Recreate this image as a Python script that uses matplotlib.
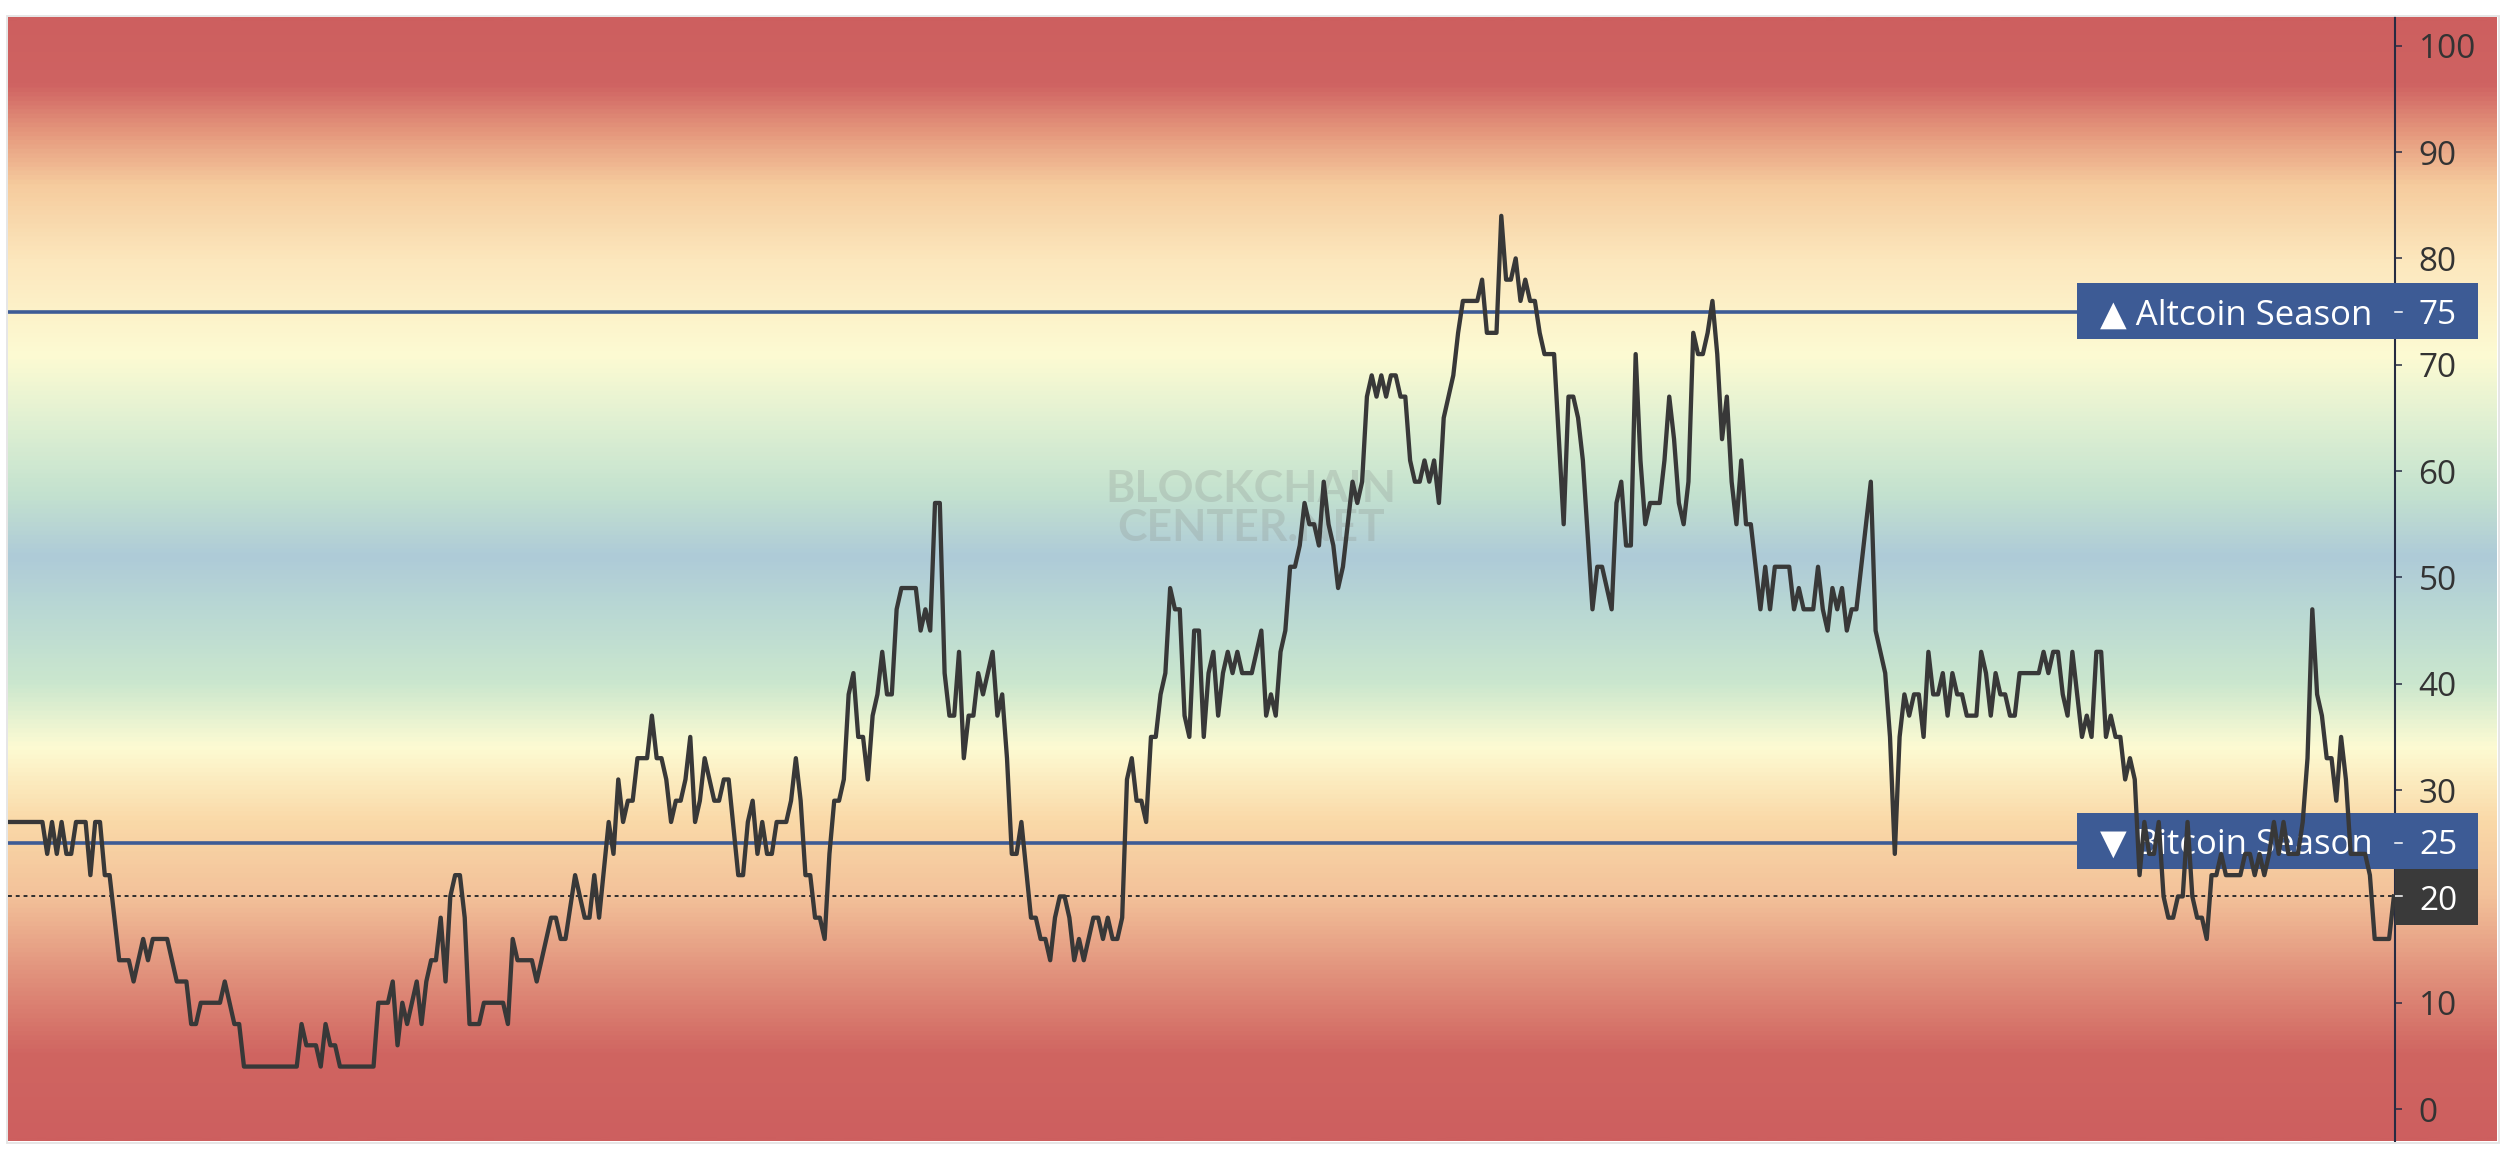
import numpy as np
import matplotlib
matplotlib.use("Agg")
import matplotlib.pyplot as plt
from matplotlib.colors import LinearSegmentedColormap, Normalize
from matplotlib.patches import Rectangle
from matplotlib.lines import Line2D
import matplotlib.transforms as mtransforms

# ---------------- data ----------------
day = [0, 7, 8, 9, 10, 11, 12, 13, 14, 16, 17, 18, 19, 20, 21, 23, 25, 26, 28, 29, 30, 33, 35, 37, 38, 39, 40, 44, 45, 47,
       48, 49, 60, 61, 62, 64, 65, 66, 67, 68, 69, 76, 77, 79, 80, 81, 82, 83, 85, 86, 87, 88, 89, 90, 91, 92, 93, 94, 95, 96,
       98, 99,
       103, 104, 105, 106, 109, 110, 113, 114, 115, 116, 118, 120, 121, 122, 123, 125, 126, 127, 128, 129, 130, 131, 133, 134,
       135, 136, 137, 138, 139, 140, 141, 142, 143, 144, 145, 147, 148, 149, 150, 152, 153, 154, 155, 156, 157, 158, 159, 160,
       162, 163, 164, 165, 166, 167, 168, 169, 170, 171, 172, 173, 174, 175, 176, 177, 178, 179,
       180, 181, 182, 183, 184, 185, 186, 189, 190, 191, 192, 193, 194, 195, 196, 197, 198, 199, 200, 201, 202, 203, 205, 206,
       207, 208, 209, 210, 211, 213, 214, 215, 216, 217, 218, 219, 220, 221, 222, 223, 224, 226, 227, 228, 229, 230, 231, 232,
       233, 234, 235, 236, 237, 238, 239, 240, 241, 242, 243, 244, 245, 246, 247, 248, 249, 250, 251, 252, 253, 254, 255, 256,
       257, 259,
       261, 262, 263, 264, 265, 266, 267, 268, 269, 270, 271, 272, 273, 274, 275, 276, 277, 278, 279, 280, 281, 282, 283, 284,
       285, 286, 287, 288, 289, 290, 291, 292, 293, 294, 295, 296, 297, 298, 299, 300, 301, 302, 303, 306, 307, 308, 310, 311,
       312, 313, 314, 315, 316, 317, 318, 319, 320, 322, 324, 325, 326, 327, 328, 330, 331, 332, 334, 335, 336, 337, 338,
       339, 340, 341, 342, 344, 345, 346, 347, 348, 349, 350, 351, 352, 353, 354, 355, 356, 357, 358, 359, 360, 361, 362, 363,
       365, 366, 367, 368, 371, 372, 373, 374, 376, 377, 378, 379, 380, 381, 382, 383, 384, 385, 388, 389, 391, 392, 393, 394,
       395, 396, 397, 398, 399, 400, 401, 402, 403, 404, 405, 406, 407, 408, 410, 411, 412, 413, 414, 415, 416, 417,
       418, 419, 423, 424, 425, 426, 427, 428, 429, 430, 431, 432, 433, 434, 435, 436, 437, 438, 439, 440, 441, 442, 443, 444,
       445, 446, 447, 448, 449, 450, 451, 452, 453, 454, 455, 456, 457, 458, 459, 460, 461, 462, 465, 466, 467, 468, 469, 470,
       471, 472, 473, 474, 475, 477, 478, 479, 480, 481, 482, 483, 484, 485, 486, 487, 488, 491, 492, 493, 496, 497]

index_value = [27, 27, 24, 27, 24, 27, 24, 24, 27, 27, 22, 27, 27, 22, 22, 14, 14, 12, 16, 14, 16, 16, 12, 12, 8, 8, 10, 10, 12, 8,
               8, 4, 4, 8, 6, 6, 4, 8, 6, 6, 4, 4, 10, 10, 12, 6, 10, 8, 12, 8, 12, 14, 14, 18, 12, 20, 22, 22, 18, 8,
               8, 10,
               10, 8, 16, 14, 14, 12, 18, 18, 16, 16, 22, 18, 18, 22, 18, 27, 24, 31, 27, 29, 29, 33, 33, 37,
               33, 33, 31, 27, 29, 29, 31, 35, 27, 29, 33, 29, 29, 31, 31, 22, 22, 27, 29, 24, 27, 24, 24, 27,
               27, 29, 33, 29, 22, 22, 18, 18, 16, 24, 29, 29, 31, 39, 41, 35, 35, 31,
               37, 39, 43, 39, 39, 47, 49, 49, 45, 47, 45, 57, 57, 41, 37, 37, 43, 33, 37, 37, 41, 39, 43, 37,
               39, 33, 24, 24, 27, 18, 18, 16, 16, 14, 18, 20, 20, 18, 14, 16, 14, 18, 18, 16, 18, 16, 16, 18,
               31, 33, 29, 29, 27, 35, 35, 39, 41, 49, 47, 47, 37, 35, 45, 45, 35, 41, 43, 37, 41, 43, 41, 43,
               41, 41,
               45, 37, 39, 37, 43, 45, 51, 51, 53, 57, 55, 55, 53, 59, 55, 53, 49, 51, 55, 59, 57, 59, 67, 69,
               67, 69, 67, 69, 69, 67, 67, 61, 59, 59, 61, 59, 61, 57, 65, 67, 69, 73, 76, 76, 78, 73, 73, 84,
               78, 78, 80, 76, 78, 76, 76, 73, 71, 71, 55, 67, 67, 65, 61, 47, 51, 51, 47, 57, 59, 53, 53,
               71, 61, 55, 57, 57, 61, 67, 63, 57, 55, 59, 73, 71, 71, 73, 76, 71, 63, 67, 59, 55, 61, 55, 55,
               47, 51, 47, 51, 51, 47, 49, 47, 47, 51, 47, 45, 49, 47, 49, 45, 47, 47, 59, 45, 41, 35, 24, 35,
               39, 37, 39, 39, 35, 43, 39, 39, 41, 37, 41, 39, 39, 37, 37, 43, 41, 37, 41, 39, 39, 37,
               37, 41, 41, 43, 41, 43, 43, 39, 37, 43, 39, 35, 37, 35, 43, 43, 35, 37, 35, 35, 31, 33, 31, 22,
               27, 24, 24, 27, 20, 18, 18, 20, 20, 27, 20, 18, 18, 16, 22, 22, 24, 22, 22, 24, 24, 22, 24, 22,
               24, 27, 24, 27, 24, 24, 27, 33, 47, 39, 37, 33, 33, 29, 35, 31, 24, 24, 22, 16, 16, 20]

y_ticks = [0, 10, 20, 30, 40, 50, 60, 70, 80, 90, 100]
altcoin_level = 75
bitcoin_level = 25
current_value = 20

# background gradient stops (index value -> colour)
grad_levels = [-3, 5, 12, 20, 27, 34, 40, 46, 52, 58, 64, 71, 80, 87, 92, 96.5, 102.7]
grad_colors = ['#CD5F5F', '#D06561', '#E08E7A', '#F3C29A', '#FAD9A8', '#FDFBD3', '#CBE7CE', '#BBDAD3',
               '#AECBD8', '#C4E2CF', '#DDEFD2', '#FDFBD3', '#FCE7BD', '#F6CC9E', '#E5987D', '#CF6362', '#CD5F5F']

# ---------------- figure ----------------
W, H = 2507, 1151
DPI = 100
fig = plt.figure(figsize=(W / DPI, H / DPI), dpi=DPI, facecolor='white')

YMIN, YMAX = -3.0, 102.7


def fig_rect(x0, y0, x1, y1):
    return [x0 / W, 1 - y1 / H, (x1 - x0) / W, (y1 - y0) / H]


# light grey frame
fig.patches.append(Rectangle((6.5 / W, 1 - 1142.5 / H), (2498.5 - 6.5) / W, (1142.5 - 15.5) / H,
                             transform=fig.transFigure, fill=False, edgecolor='#e4e4e4', lw=1.3))

# gradient background (spans plot + axis label area)
bg = fig.add_axes(fig_rect(8, 17, 2497, 1141))
bg.set_axis_off()
vmin, vmax = grad_levels[0], grad_levels[-1]
pos = [(v - vmin) / (vmax - vmin) for v in grad_levels]
cmap = LinearSegmentedColormap.from_list('season', list(zip(pos, grad_colors)))
grad = np.linspace(YMIN, YMAX, 1500).reshape(-1, 1)
bg.imshow(grad, aspect='auto', cmap=cmap, norm=Normalize(vmin, vmax),
          extent=[0, 1, YMIN, YMAX], origin='lower', interpolation='bilinear')
bg.set_xlim(0, 1)
bg.set_ylim(YMIN, YMAX)

# main axes
ax = fig.add_axes(fig_rect(8, 17, 2395, 1141))
ax.set_facecolor('none')
ax.set_xlim(-0.17, 497.23)
ax.set_ylim(YMIN, YMAX)
for s in ['top', 'left', 'bottom']:
    ax.spines[s].set_visible(False)
ax.spines['right'].set_color('#262b42')
ax.spines['right'].set_linewidth(1.5)
ax.set_xticks([])
ax.yaxis.tick_right()
ax.set_yticks(y_ticks)
ax.set_yticklabels([str(t) for t in y_ticks])
ax.tick_params(axis='y', direction='out', length=5, width=1.1, color='#262b42',
               labelcolor='#333333', labelsize=24, pad=12)
for lab in ax.get_yticklabels():
    lab.set_fontfamily(['Open Sans', 'DejaVu Sans'])

LBL_FONT = ['Open Sans', 'DejaVu Sans']
BLUE = '#3D5B95'
trans = mtransforms.blended_transform_factory(ax.transAxes, ax.transData)

# threshold lines
ax.axhline(altcoin_level, color=BLUE, lw=2.6, zorder=2)
ax.axhline(bitcoin_level, color=BLUE, lw=2.6, zorder=2)
ax.axhline(current_value, color='#2f2f2f', lw=1.4, linestyle=(0, (2, 2)), zorder=2)

# watermark
ax.text(0.5207, 57.1, 'BLOCKCHAIN', transform=trans, ha='center', va='baseline',
        fontsize=32, fontweight='bold', family=['Lato', 'DejaVu Sans'], color='#8e9490', alpha=0.28, zorder=1)
ax.text(0.5207, 53.4, 'CENTER.NET', transform=trans, ha='center', va='baseline',
        fontsize=32, fontweight='bold', family=['Lato', 'DejaVu Sans'], color='#8e9490', alpha=0.28, zorder=1)

# label boxes
box_left = (2077 - 8) / 2387
box_right = (2478 - 8) / 2387
label_x = (2419 - 8) / 2387
text_x = (2100 - 8) / 2387
tick_end = (2402 - 8) / 2387

ax.add_patch(Rectangle((box_left, 72.43), box_right - box_left, 77.67 - 72.43, transform=trans,
                       facecolor=BLUE, edgecolor='none', clip_on=False, zorder=5))
ax.add_patch(Rectangle((box_left, 22.59), box_right - box_left, 27.82 - 22.59, transform=trans,
                       facecolor=BLUE, edgecolor='none', clip_on=False, zorder=5))
ax.add_patch(Rectangle((1.0, 17.32), box_right - 1.0, 22.59 - 17.32, transform=trans,
                       facecolor='#3a3a3a', edgecolor='none', clip_on=False, zorder=5))

ax.text(text_x, 73.8, '\u25B2 Altcoin Season', transform=trans, ha='left', va='baseline',
        fontsize=25, color='white', family=LBL_FONT, zorder=5.5, clip_on=False)
ax.text(text_x, 23.98, '\u25BC Bitcoin Season', transform=trans, ha='left', va='baseline',
        fontsize=25, color='white', family=LBL_FONT, zorder=5.5, clip_on=False)
for lvl, base in [(altcoin_level, 73.8), (bitcoin_level, 23.98), (current_value, 18.73)]:
    ax.add_line(Line2D([1.0, tick_end], [lvl, lvl], transform=trans, color='white', lw=1.1,
                       clip_on=False, zorder=5.6))
    ax.text(label_x, base, str(lvl), transform=trans, ha='left', va='baseline', fontsize=24,
            color='white', family=LBL_FONT, zorder=5.6, clip_on=False)

# index line
ax.plot(day, index_value, color='#383838', lw=3.1, zorder=6, solid_joinstyle='round')

fig.savefig('out.png', dpi=DPI, facecolor='white')
